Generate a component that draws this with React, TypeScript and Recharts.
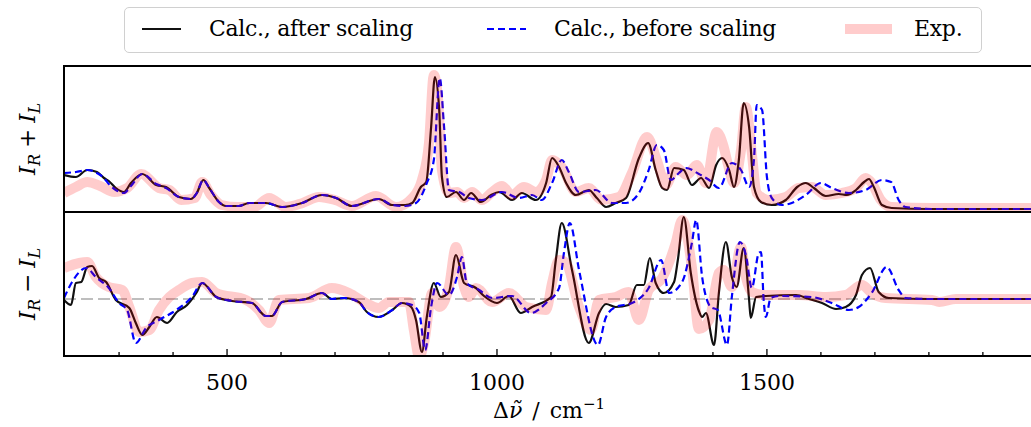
import React from "react";
import { Line, LineChart, ReferenceLine, XAxis, YAxis } from "recharts";

const FONT = '"DejaVu Serif", "Liberation Serif", serif';

const X_DOMAIN: [number, number] = [198, 1991];
const X_TICKS = [300, 400, 500, 600, 700, 800, 900, 1000, 1100, 1200, 1300, 1400, 1500, 1600, 1700, 1800, 1900];
const X_LABELS = [500, 1000, 1500];

// I_R + I_L, arbitrary units
const AFTER_SUM: [number, number][] = [
  [198, 35], [220, 33], [241, 40], [259, 38], [272, 32], [281, 29], [294, 22], [309, 18], [322, 27], [343, 36],
  [369, 25], [387, 23], [411, 13], [433, 11], [444, 17], [456, 30], [467, 22], [485, 8], [498, 4], [522, 4],
  [541, 7], [572, 7], [602, 3], [639, 7], [676, 15], [702, 12], [731, 4], [781, 11], [806, 5], [830, 5],
  [843, 7], [859, 23], [869, 28], [878, 83], [885, 133], [893, 100], [898, 33], [907, 13], [924, 18], [939, 10],
  [952, 17], [970, 8], [989, 15], [1004, 18], [1028, 10], [1046, 17], [1072, 10], [1091, 27], [1102, 52], [1115, 43],
  [1128, 27], [1146, 15], [1170, 20], [1185, 12], [1202, 3], [1220, 7], [1239, 12], [1263, 52], [1280, 67], [1294, 40],
  [1306, 22], [1315, 20], [1328, 42], [1346, 40], [1361, 25], [1378, 32], [1393, 22], [1406, 45], [1417, 52], [1430, 40],
  [1439, 23], [1448, 50], [1457, 107], [1467, 83], [1476, 23], [1489, 8], [1509, 5], [1535, 10], [1556, 23], [1572, 27],
  [1587, 22], [1609, 14], [1633, 16], [1648, 15], [1665, 20], [1680, 28], [1689, 31], [1698, 23], [1713, 5], [1731, 2],
  [1800, 1], [1991, 1],
];

const BEFORE_SUM: [number, number][] = [
  [198, 37], [220, 38], [241, 40], [259, 37], [272, 32], [281, 26], [294, 20], [309, 17], [322, 24], [343, 36],
  [369, 26], [387, 22], [411, 13], [433, 11], [444, 17], [456, 30], [467, 22], [485, 8], [498, 4], [522, 4],
  [541, 7], [572, 7], [602, 3], [639, 7], [676, 15], [702, 12], [731, 4], [781, 11], [806, 5], [830, 4],
  [850, 7], [870, 27], [883, 50], [894, 132], [902, 83], [911, 20], [930, 18], [948, 12], [972, 10], [1009, 18],
  [1041, 12], [1065, 15], [1083, 10], [1102, 27], [1120, 50], [1133, 38], [1152, 18], [1183, 20], [1213, 7], [1239, 7],
  [1263, 17], [1281, 40], [1296, 65], [1309, 60], [1322, 30], [1337, 37], [1350, 42], [1374, 36], [1393, 30], [1411, 22],
  [1435, 47], [1452, 40], [1467, 23], [1476, 50], [1481, 105], [1491, 100], [1500, 33], [1509, 12], [1528, 5], [1546, 7],
  [1572, 15], [1600, 27], [1620, 22], [1652, 17], [1683, 20], [1713, 30], [1730, 28], [1744, 10], [1757, 3], [1806, 1],
  [1991, 1],
];

const EXP_SUM: [number, number][] = [
  [198, 17], [220, 23], [241, 28], [265, 24], [291, 18], [315, 22], [341, 36], [374, 22], [393, 20], [415, 10],
  [440, 12], [454, 28], [470, 15], [490, 5], [520, 3], [550, 3], [578, 12], [609, 3], [640, 7], [670, 13],
  [700, 10], [731, 4], [776, 14], [813, 3], [843, 12], [861, 30], [874, 67], [883, 135], [891, 110], [898, 40],
  [911, 17], [926, 18], [939, 12], [954, 18], [972, 10], [991, 18], [1009, 24], [1028, 15], [1050, 23], [1072, 18],
  [1091, 30], [1102, 50], [1120, 43], [1146, 18], [1170, 22], [1194, 10], [1226, 13], [1250, 37], [1278, 73], [1296, 50],
  [1313, 25], [1331, 43], [1352, 35], [1370, 45], [1387, 27], [1407, 78], [1420, 63], [1428, 45], [1439, 27], [1452, 60],
  [1461, 103], [1472, 57], [1481, 17], [1504, 10], [1535, 13], [1559, 22], [1583, 23], [1609, 15], [1639, 17], [1665, 22],
  [1683, 32], [1694, 27], [1711, 10], [1731, 3], [1806, 2], [1991, 2],
];

// I_R - I_L, arbitrary units
const AFTER_DIFF: [number, number][] = [
  [198, -1], [211, -6], [220, 16], [230, 17], [241, 32], [250, 33], [263, 21], [276, 17], [294, -1], [319, -9],
  [331, -24], [343, -36], [356, -28], [370, -18], [389, -24], [407, -13], [426, -6], [443, 6], [454, 16], [480, 2],
  [509, -2], [546, -4], [572, -17], [583, -17], [602, -3], [646, 0], [676, 6], [694, 0], [717, 1], [744, -3],
  [759, -13], [781, -18], [806, -11], [824, -4], [841, -8], [850, -21], [861, -53], [870, -18], [883, 16], [896, 2],
  [911, 7], [924, 44], [939, 16], [961, 11], [976, 3], [1000, -4], [1022, 3], [1044, -14], [1065, -8], [1100, 2],
  [1109, 39], [1120, 76], [1139, 29], [1170, -44], [1189, -14], [1202, -5], [1220, -8], [1244, -6], [1259, 14], [1272, 14],
  [1283, 41], [1294, 16], [1309, 6], [1328, 17], [1335, 39], [1346, 82], [1359, 26], [1374, -12], [1380, -18], [1387, -14],
  [1402, -46], [1411, 6], [1424, 57], [1435, 22], [1444, 12], [1457, 51], [1467, -1], [1470, -19], [1480, 2], [1498, 3],
  [1554, 4], [1578, 0], [1602, -4], [1628, -10], [1646, -8], [1665, 4], [1676, 24], [1691, 31], [1707, 7], [1726, 1],
  [1800, 0], [1991, 0],
];

const BEFORE_DIFF: [number, number][] = [
  [198, 1], [213, 17], [239, 31], [257, 22], [281, 11], [300, -4], [315, -11], [331, -44], [350, -29], [374, -21],
  [406, -11], [435, 2], [454, 16], [480, 2], [509, -2], [546, -4], [572, -17], [583, -17], [602, -3], [646, 0],
  [676, 6], [694, 0], [717, 1], [744, -3], [759, -13], [781, -18], [806, -11], [824, -4], [843, -6], [856, -14],
  [867, -51], [878, -8], [889, 16], [911, 4], [926, 22], [935, 42], [944, 16], [967, 9], [991, 1], [1028, 3],
  [1063, -14], [1091, -4], [1115, 11], [1124, 46], [1135, 76], [1152, 29], [1187, -46], [1202, -18], [1220, -8], [1250, -4],
  [1281, 11], [1304, 39], [1319, 6], [1343, 17], [1361, 56], [1369, 79], [1380, 22], [1396, -8], [1409, -11], [1426, -46],
  [1435, 2], [1450, 57], [1461, 44], [1472, 11], [1485, 46], [1489, 47], [1494, -1], [1498, -18], [1507, 1], [1522, 3],
  [1583, 2], [1620, -4], [1652, -11], [1670, -8], [1694, 6], [1722, 32], [1744, 9], [1757, 1], [1800, 0], [1991, 0],
];

const EXP_DIFF: [number, number][] = [
  [198, 31], [226, 36], [241, 37], [257, 22], [281, 12], [306, 9], [319, -8], [337, -33], [356, -31], [374, -11],
  [393, 2], [411, 9], [435, 16], [454, 17], [480, 6], [535, -1], [559, -11], [578, -24], [596, -1], [652, 1],
  [694, 11], [726, 6], [757, -4], [781, -9], [800, -3], [837, -3], [846, -31], [856, -58], [865, -44], [880, 6],
  [893, -8], [911, 12], [924, 52], [939, 12], [948, 2], [961, 11], [991, -3], [1022, 6], [1054, -8], [1091, -11],
  [1102, 16], [1115, 39], [1128, 36], [1152, -8], [1174, -31], [1189, -1], [1220, 2], [1244, 7], [1263, -21], [1281, 9],
  [1306, 21], [1331, 56], [1343, 79], [1361, 32], [1374, -30], [1393, -21], [1411, 26], [1420, 29], [1435, 12], [1452, 52],
  [1461, 22], [1472, 7], [1498, 4], [1559, 4], [1609, 2], [1646, 4], [1676, 14], [1694, 6], [1720, 1], [1806, -1],
  [1819, -3], [1850, 0], [1991, 0],
];

const AFTER_COLOR = "#111111";
const BEFORE_COLOR = "#0000ff";
const EXP_COLOR = "#ff0000";

const pts = (a: [number, number][]) => a.map(([x, y]) => ({ x, y }));

function InTick({ x, y, payload, labels }: any) {
  const major = X_LABELS.includes(payload.value);
  return (
    <g>
      <line x1={x} x2={x} y1={y} y2={y - (major ? 7 : 4)} stroke="#000" strokeWidth={1.3} />
      {labels && major && (
        <text x={x} y={y + 34} textAnchor="middle" fontFamily={FONT} fontSize={22} fill="#000">
          {payload.value}
        </text>
      )}
    </g>
  );
}

function Panel({
  top,
  height,
  yDomain,
  after,
  before,
  exp,
  bottomAxis = false,
}: {
  top: number;
  height: number;
  yDomain: [number, number];
  after: [number, number][];
  before: [number, number][];
  exp: [number, number][];
  bottomAxis?: boolean;
}) {
  const chartH = bottomAxis ? 427 - top : height;
  return (
    <div style={{ position: "absolute", left: 0, top }}>
      <LineChart width={1040} height={chartH} margin={{ top: 0, right: 8, bottom: 0, left: 64 }}>
        <XAxis
          type="number"
          dataKey="x"
          domain={X_DOMAIN}
          ticks={X_TICKS}
          interval={0}
          allowDataOverflow
          height={chartH - height}
          axisLine={false}
          tickLine={false}
          tickSize={0}
          tickMargin={0}
          tick={(p: any) => <InTick {...p} labels={bottomAxis} />}
        />
        <YAxis type="number" dataKey="y" domain={yDomain} allowDataOverflow hide width={0} />
        {bottomAxis && (
          <ReferenceLine y={0} stroke="#7f7f7f" strokeDasharray="12 5" strokeWidth={1.2} />
        )}
        <Line
          data={pts(after)}
          dataKey="y"
          type="monotone"
          stroke={AFTER_COLOR}
          strokeWidth={2.2}
          dot={false}
          isAnimationActive={false}
        />
        <Line
          data={pts(before)}
          dataKey="y"
          type="monotone"
          stroke={BEFORE_COLOR}
          strokeWidth={2.2}
          strokeDasharray="7 4"
          dot={false}
          isAnimationActive={false}
        />
        <Line
          data={pts(exp)}
          dataKey="y"
          type="monotone"
          stroke={EXP_COLOR}
          strokeOpacity={0.2}
          strokeWidth={10}
          strokeLinejoin="round"
          dot={false}
          isAnimationActive={false}
        />
      </LineChart>
    </div>
  );
}

function YLabel({ cy, op }: { cy: number; op: string }) {
  const sub = { fontSize: 16, fontStyle: "italic" as const, verticalAlign: "-5px", lineHeight: 0 };
  return (
    <div
      style={{
        position: "absolute",
        left: 27,
        top: cy,
        transform: "translate(-50%, -50%) rotate(-90deg)",
        whiteSpace: "nowrap",
        fontFamily: FONT,
        fontSize: 23,
        lineHeight: 1,
      }}
    >
      <i>I</i>
      <span style={sub}>R</span>
      <span style={{ margin: "0 6px" }}>{op}</span>
      <i>I</i>
      <span style={sub}>L</span>
    </div>
  );
}

function Legend() {
  const text = {
    position: "absolute" as const,
    top: 29,
    transform: "translateY(-50%)",
    fontFamily: FONT,
    fontSize: 22,
    letterSpacing: -0.3,
    whiteSpace: "nowrap" as const,
    lineHeight: 1,
  };
  return (
    <>
      <div
        style={{
          position: "absolute",
          left: 124,
          top: 7,
          width: 858,
          height: 46,
          boxSizing: "border-box",
          border: "1.5px solid #d0d0d0",
          borderRadius: 5,
          background: "#fff",
        }}
      />
      <svg style={{ position: "absolute", left: 0, top: 0 }} width={1031} height={60}>
        <line x1={142} x2={181} y1={29} y2={29} stroke={AFTER_COLOR} strokeWidth={2.2} />
        <line x1={487} x2={526} y1={29} y2={29} stroke={BEFORE_COLOR} strokeWidth={2.2} strokeDasharray="7 4" />
        <line x1={845} x2={892} y1={29} y2={29} stroke={EXP_COLOR} strokeOpacity={0.2} strokeWidth={10} />
      </svg>
      <div style={{ ...text, left: 209 }}>Calc., after scaling</div>
      <div style={{ ...text, left: 554 }}>Calc., before scaling</div>
      <div style={{ ...text, left: 914 }}>Exp.</div>
    </>
  );
}

export default function App() {
  return (
    <div
      style={{
        position: "fixed",
        left: 0,
        top: 0,
        width: 1031,
        height: 427,
        overflow: "hidden",
        background: "#fff",
      }}
    >
      <Panel top={66} height={146} yDomain={[-2, 144]} after={AFTER_SUM} before={BEFORE_SUM} exp={EXP_SUM} />
      <Panel
        top={212}
        height={144}
        yDomain={[-57, 87]}
        after={AFTER_DIFF}
        before={BEFORE_DIFF}
        exp={EXP_DIFF}
        bottomAxis
      />
      {/* panel frames */}
      <div
        style={{
          position: "absolute",
          left: 63,
          top: 65,
          width: 972,
          height: 148,
          boxSizing: "border-box",
          border: "2px solid #000",
          pointerEvents: "none",
        }}
      />
      <div
        style={{
          position: "absolute",
          left: 63,
          top: 211,
          width: 972,
          height: 146,
          boxSizing: "border-box",
          border: "2px solid #000",
          pointerEvents: "none",
        }}
      />
      <YLabel cy={139} op="+" />
      <YLabel cy={284} op={"\u2212"} />
      <div
        style={{
          position: "absolute",
          left: 549,
          top: 411,
          transform: "translate(-50%, -50%)",
          fontFamily: FONT,
          fontSize: 22,
          whiteSpace: "nowrap",
          lineHeight: 1,
        }}
      >
        {"\u0394"}
        <i>{"\u03bd\u0303"}</i>
        <span style={{ margin: "0 10px" }}>/</span>
        cm
        <span style={{ fontSize: 15, position: "relative", top: -9 }}>{"\u22121"}</span>
      </div>
      <Legend />
    </div>
  );
}
